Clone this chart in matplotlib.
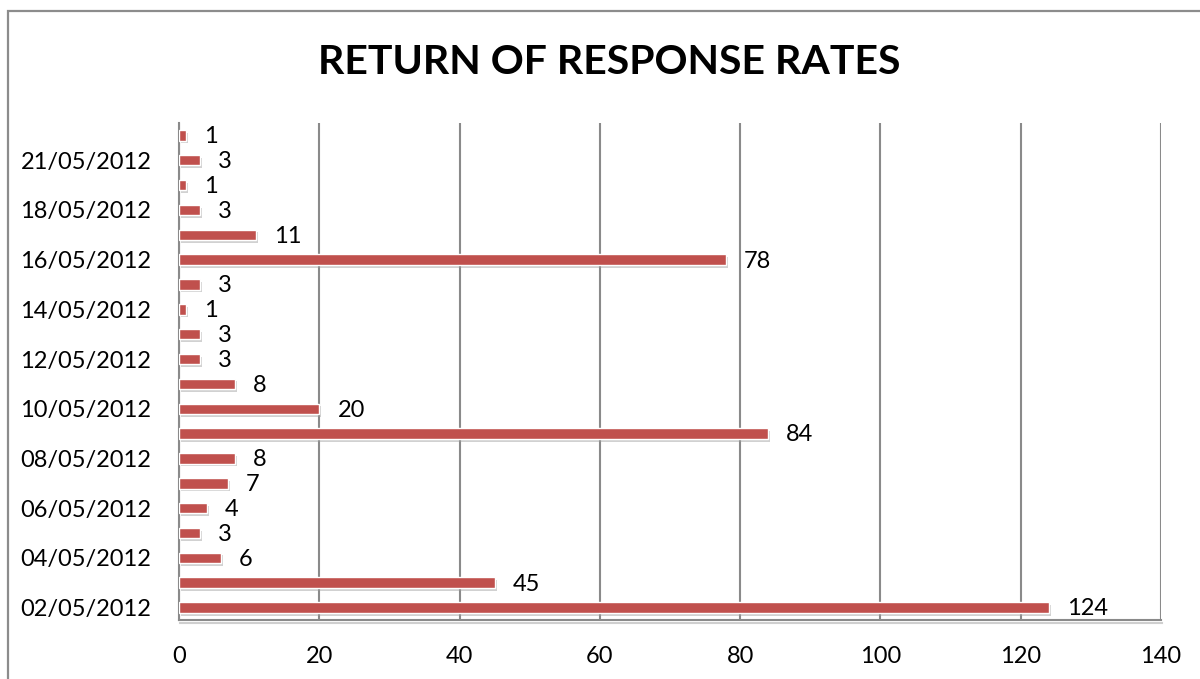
import matplotlib.pyplot as plt
import matplotlib.patheffects as pe
from matplotlib.patches import Rectangle

dates = ['02/05/2012', '03/05/2012', '04/05/2012', '05/05/2012', '06/05/2012',
         '07/05/2012', '08/05/2012', '09/05/2012', '10/05/2012', '11/05/2012',
         '12/05/2012', '13/05/2012', '14/05/2012', '15/05/2012', '16/05/2012',
         '17/05/2012', '18/05/2012', '19/05/2012', '21/05/2012', '22/05/2012']
responses = [124, 45, 6, 3, 4, 7, 8, 84, 20, 8, 3, 3, 1, 3, 78, 11, 3, 1, 3, 1]
xticks = [0, 20, 40, 60, 80, 100, 120, 140]

plt.rcParams['font.family'] = ['Lato', 'DejaVu Sans']

fig = plt.figure(figsize=(12, 6.79), dpi=100)
ax = fig.add_axes([0.1492, 0.0869, 0.8183, 0.7320])

# outer frame, only the top and left edges fall inside the image
fig.patches.append(Rectangle((8 / 1200, -0.1), 1.2, 1 - 11 / 679 + 0.1,
                             transform=fig.transFigure, fill=False,
                             edgecolor='#8c8c8c', linewidth=1.6))

shadow = [pe.SimplePatchShadow(offset=(1.5, -2), shadow_rgbFace='#9a9a9a', alpha=0.45),
          pe.Normal()]
ypos = list(range(len(dates)))
bars = ax.barh(ypos, responses, height=0.42, color='#C0504D',
               edgecolor='white', linewidth=1.0, zorder=3)
for b in bars:
    b.set_path_effects(shadow)

for y, v in zip(ypos, responses):
    ax.annotate(str(v), (v, y), xytext=(13, -1), textcoords='offset points',
                ha='left', va='center', fontsize=17, color='black', zorder=4)

ax.set_xlim(0, 140)
ax.set_ylim(-0.5, len(dates) - 0.5)
ax.set_xticks(xticks)
ax.set_xticklabels([str(t) for t in xticks], fontsize=17)
ax.set_yticks(ypos[::2])
ax.set_yticklabels(dates[::2], fontsize=17)
ax.tick_params(length=0)
ax.tick_params(axis='x', pad=19)
ax.tick_params(axis='y', pad=20)

ax.grid(axis='x', color='#8a8a8a', linewidth=1.5, zorder=1)
ax.set_axisbelow(True)
for s in ('top', 'right'):
    ax.spines[s].set_visible(False)
ax.spines['left'].set_color('#8a8a8a')
ax.spines['left'].set_linewidth(1.5)
ax.spines['bottom'].set_color('#8a8a8a')
ax.spines['bottom'].set_linewidth(1.5)
ax.spines['bottom'].set_path_effects(
    [pe.SimpleLineShadow(offset=(1, -2), shadow_color='#a0a0a0', alpha=0.5), pe.Normal()])

fig.text(0.508, 0.908, 'RETURN OF RESPONSE RATES', ha='center', va='center',
         fontsize=29.5, fontweight='bold')

fig.savefig('out.png', dpi=100)
